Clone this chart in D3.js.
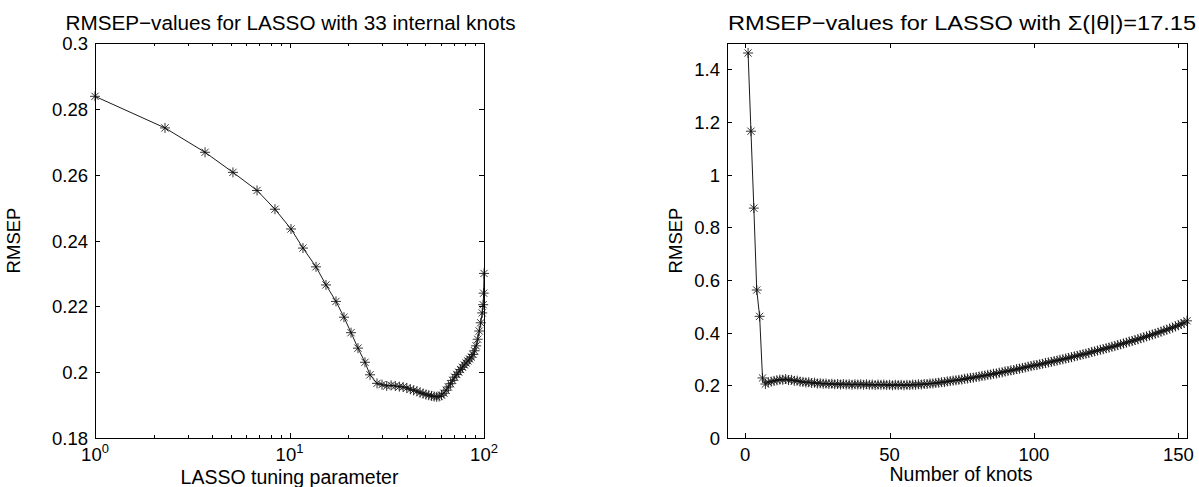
<!DOCTYPE html>
<html><head><meta charset="utf-8">
<script src="https://cdn.jsdelivr.net/npm/d3@7"></script>
<style>
html,body{margin:0;padding:0;background:#fff;}
svg{display:block;font-family:"Liberation Sans",Arial,Helvetica,sans-serif;}
</style></head>
<body><svg id="c" width="1199" height="487"></svg>
<script>
// ---------- data: left panel ----------
const lassoParam = [1,2.29,3.68,5.12,6.81,8.42,10.18,11.73,13.69,15.4,17.34,19.06,20.72,22.5,24.44,25.94,28.18,29.9,31.6,33.3,35,36.7,38.4,40.1,41.8,43.5,45.2,46.9,48.6,50.3,52,53.7,55.4,57.1,58.8,60.5,62.2,63.9,65.6,67.3,69,70.7,72.4,74.1,75.8,77.5,79.2,80.9,82.6,84.3,86,87.7,89.4,91.1,92.8,94.5,96.2,97.9,99,99.6,100];
const rmsepLasso = [0.2838,0.2742,0.2668,0.2607,0.2552,0.2495,0.2435,0.2377,0.2320,0.2265,0.2215,0.2167,0.2120,0.2073,0.2030,0.1992,0.1966,0.1962,0.1958,0.1960,0.1958,0.1956,0.1955,0.1952,0.1948,0.1945,0.1942,0.1938,0.1935,0.1932,0.1930,0.1928,0.1926,0.1925,0.1926,0.1930,0.1936,0.1945,0.1955,0.1965,0.1975,0.1985,0.1993,0.2000,0.2008,0.2015,0.2022,0.2028,0.2034,0.2040,0.2046,0.2054,0.2065,0.2080,0.2100,0.2125,0.2150,0.2180,0.2205,0.2240,0.2300];
const leftYTicks = [0.18,0.2,0.22,0.24,0.26,0.28,0.3];
const leftXMajor = [1,10,100];
const leftXMinor = [2,3,4,5,6,7,8,9,20,30,40,50,60,70,80,90];

// ---------- data: right panel ----------
const knots = [];
for (let k = 1; k <= 153; k++) knots.push(k); // knot counts 1..153
const rmsepKnots = [1.462,1.165,0.873,0.562,0.462,0.228,0.205,0.212,0.214,0.217,
0.219,0.222,0.221,0.224,0.220,0.221,0.217,0.218,0.214,0.213,
0.211,0.212,0.209,0.210,0.207,0.208,0.206,0.207,0.205,0.206,
0.204,0.205,0.203,0.205,0.203,0.204,0.202,0.204,0.203,0.204,
0.202,0.204,0.202,0.203,0.201,0.203,0.202,0.203,0.201,0.202,
0.200,0.202,0.201,0.202,0.200,0.202,0.201,0.203,0.202,0.204,
0.203,0.205,0.205,0.207,0.207,0.209,0.210,0.212,0.212,0.215,
0.216,0.218,0.219,0.221,0.222,0.225,0.226,0.228,0.229,0.232,
0.233,0.236,0.237,0.240,0.241,0.244,0.245,0.248,0.249,0.253,
0.254,0.257,0.258,0.262,0.263,0.266,0.268,0.271,0.273,0.276,
0.277,0.280,0.282,0.285,0.287,0.289,0.292,0.294,0.297,0.299,
0.302,0.304,0.307,0.310,0.312,0.315,0.318,0.320,0.323,0.327,
0.329,0.332,0.335,0.337,0.341,0.343,0.347,0.349,0.353,0.356,
0.359,0.362,0.366,0.368,0.372,0.375,0.379,0.382,0.386,0.389,
0.393,0.396,0.400,0.404,0.408,0.411,0.416,0.419,0.424,0.428,
0.433,0.437,0.445];
const rightYTicks = [0,0.2,0.4,0.6,0.8,1,1.2,1.4];
const rightXTicks = [0,50,100,150];

const titleLeft = "RMSEP\u2212values for LASSO with 33 internal knots";
const titleRight = "RMSEP\u2212values for LASSO with \u03A3(|\u03B8|)=17.15";

// ---------- drawing ----------
const svg = d3.select("#c");
const FONT = 18.5, LFONT = 19.5, TFONT = 20.5, TICK = 5;

function starPath(r){
  const d = r*0.72;
  return `M${-r},0H${r}M0,${-r}V${r}M${-d},${-d}L${d},${d}M${-d},${d}L${d},${-d}`;
}

function panel(opt){
  const {x0,x1,y0,y1} = opt;
  const g = svg.append("g");
  const xs = opt.xs.range([x0,x1]);
  const ys = opt.ys.range([y1,y0]);

  const tk = g.append("g").attr("stroke","#000").attr("stroke-width",1).attr("shape-rendering","crispEdges");
  opt.yTicks.forEach(v=>{
    const y = Math.round(ys(v))+0.5;
    tk.append("line").attr("x1",x0).attr("x2",x0+TICK).attr("y1",y).attr("y2",y);
    tk.append("line").attr("x1",x1).attr("x2",x1-TICK).attr("y1",y).attr("y2",y);
    g.append("text").attr("x",x0-7).attr("y",y).attr("dy","0.36em")
      .attr("text-anchor","end").attr("font-size",FONT).text(opt.yFmt(v));
  });
  opt.xTicks.forEach(v=>{
    const x = Math.round(xs(v))+0.5;
    tk.append("line").attr("x1",x).attr("x2",x).attr("y1",y1).attr("y2",y1-TICK);
    tk.append("line").attr("x1",x).attr("x2",x).attr("y1",y0).attr("y2",y0+TICK);
  });
  (opt.xMinor||[]).forEach(v=>{
    const x = Math.round(xs(v))+0.5;
    tk.append("line").attr("x1",x).attr("x2",x).attr("y1",y1).attr("y2",y1-3);
    tk.append("line").attr("x1",x).attr("x2",x).attr("y1",y0).attr("y2",y0+3);
  });
  opt.xTicks.forEach(v=>{
    const x = xs(v);
    const t = g.append("text").attr("x",x).attr("y",y1+23).attr("text-anchor","middle").attr("font-size",FONT);
    opt.xLabel(t,v);
  });

  const pts = opt.xData.map((d,i)=>[xs(d),ys(opt.yData[i])]);
  g.append("path").attr("d",d3.line()(pts)).attr("fill","none").attr("stroke","#000").attr("stroke-width",0.9);
  g.append("g").selectAll("path").data(pts).join("path")
    .attr("transform",d=>`translate(${d[0]},${d[1]})`)
    .attr("d",starPath(5)).attr("fill","none").attr("stroke","#111").attr("stroke-width",0.85);

  g.append("rect").attr("x",x0+0.5).attr("y",y0+0.5).attr("width",x1-x0).attr("height",y1-y0)
    .attr("fill","none").attr("stroke","#000").attr("stroke-width",1).attr("shape-rendering","crispEdges");

  g.append("text").attr("x",(x0+x1)/2+opt.titleDx).attr("y",y0-13).attr("text-anchor","middle")
    .attr("font-size",TFONT).attr("textLength",opt.titleW).attr("lengthAdjust","spacingAndGlyphs")
    .text(opt.title);
  g.append("text").attr("x",(x0+x1)/2+opt.xTitleDx).attr("y",opt.xTitleY).attr("text-anchor","middle")
    .attr("font-size",LFONT).text(opt.xTitle);
  g.append("text").attr("transform",`translate(${opt.yTitleX},${(y0+y1)/2}) rotate(-90)`)
    .attr("text-anchor","middle").attr("font-size",FONT).text("RMSEP");
}

panel({
  x0:95,x1:484,y0:43,y1:438,
  xs:d3.scaleLog().domain([1,100]),
  ys:d3.scaleLinear().domain([0.18,0.3]),
  yTicks:leftYTicks, yFmt:v=>d3.format("~g")(+v.toFixed(2)),
  xTicks:leftXMajor, xMinor:leftXMinor,
  xLabel:(t,v)=>{ t.append("tspan").text("10");
    t.append("tspan").attr("dy",-8).attr("font-size",13).text(String(Math.round(Math.log10(v)))); },
  xData:lassoParam, yData:rmsepLasso,
  title:titleLeft, titleW:450, titleDx:1,
  xTitle:"LASSO tuning parameter", xTitleDx:0, xTitleY:484, yTitleX:20
});

panel({
  x0:727,x1:1187,y0:43,y1:438,
  xs:d3.scaleLinear().domain([-6.3,153]),
  ys:d3.scaleLinear().domain([0,1.5]),
  yTicks:rightYTicks, yFmt:v=>d3.format("~g")(+v.toFixed(1)),
  xTicks:rightXTicks,
  xLabel:(t,v)=>{ t.text(String(v)); },
  xData:knots, yData:rmsepKnots,
  title:titleRight, titleW:468, titleDx:5,
  xTitle:"Number of knots", xTitleDx:4, xTitleY:481, yTitleX:682
});
</script></body></html>
